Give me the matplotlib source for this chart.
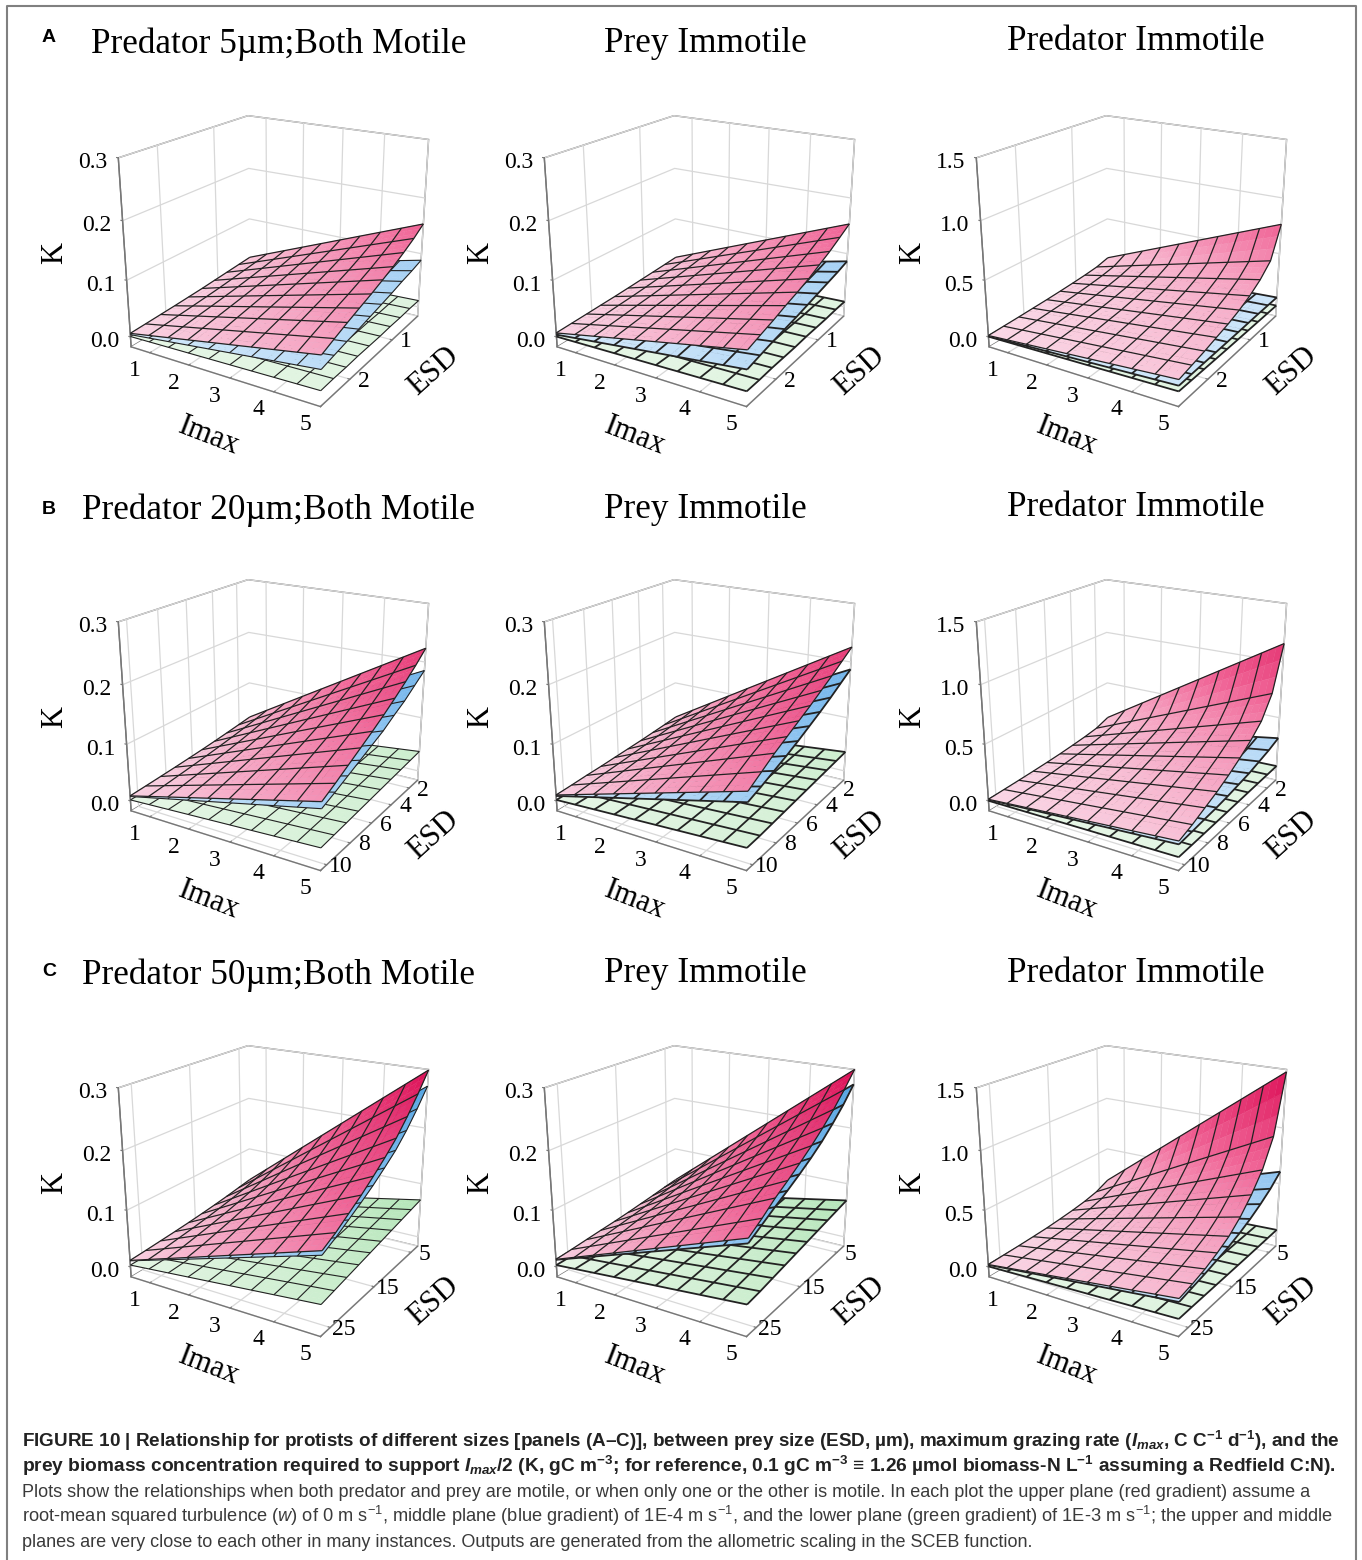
import numpy as np
import matplotlib as mpl
mpl.use('Agg')
import matplotlib.pyplot as plt
from matplotlib.colors import LinearSegmentedColormap
from matplotlib.transforms import offset_copy
from mpl_toolkits.mplot3d import proj3d

W,H = 1362,1560
plt.rcParams['font.family'] = 'Liberation Serif'
plt.rcParams['mathtext.fontset'] = 'custom'
plt.rcParams['mathtext.rm'] = 'Liberation Sans'
plt.rcParams['mathtext.bf'] = 'Liberation Sans:bold'
plt.rcParams['mathtext.it'] = 'Liberation Sans:italic:bold'
plt.rcParams['mathtext.sf'] = 'Liberation Sans:italic'

# Imax at the two ends of the mesh
IMAX_ENDS = [0.5,5]
# ESD nodes per row
ESD_A = [0.3,0.55,0.81,1.07,1.32,1.58,1.84,2.09,2.35,2.6]
ESD_B = [1.0,2.06,3.11,4.17,5.22,6.28,7.33,8.39,9.44,10.5]
ESD_C = [3.0,5.67,8.33,11.0,13.67,16.33,19.0,21.67,24.33,27.0]

# K along ESD: first row Imax=0.5, second row Imax=5
A1_RED = [[.0210,.0190,.0170,.0150,.0130,.0115,.0100,.0088,.0076,.0065],[.154,.140,.128,.117,.108,.099,.091,.083,.074,.065]]
A1_BLUE = [[.0088,.0082,.0077,.0071,.0066,.0061,.0056,.0052,.0047,.0042],[.088,.082,.077,.071,.066,.061,.056,.052,.047,.042]]
A1_GREEN = [[.0012,.0012,.0011,.0011,.0010,.0010,.0010,.0009,.0009,.0008],[.012,.012,.011,.011,.010,.010,.010,.009,.009,.008]]
A2_RED = [[.0210,.0190,.0172,.0155,.0138,.0122,.0110,.0097,.0085,.0073],[.154,.142,.130,.120,.110,.102,.095,.087,.080,.073]]
A2_BLUE = [[.0086,.0080,.0075,.0070,.0065,.0060,.0056,.0052,.0047,.0042],[.086,.080,.075,.070,.065,.060,.056,.052,.047,.042]]
A2_GREEN = [[.0010,.0010,.0009,.0009,.0009,.0008,.0008,.0008,.0007,.0007],[.010,.010,.009,.009,.009,.008,.008,.008,.007,.007]]
A3_RED = [[.100,.070,.056,.046,.038,.031,.026,.021,.017,.013],[.767,.500,.400,.330,.280,.240,.210,.180,.155,.130]]
A3_BLUE = [[.009,.009,.009,.009,.009,.009,.008,.008,.008,.008],[.090,.090,.090,.088,.086,.085,.084,.083,.082,.080]]
A3_GREEN = [[.001,.001,.002,.002,.002,.002,.003,.003,.003,.003],[.012,.014,.016,.018,.020,.022,.025,.028,.031,.034]]

B1_RED = [[.0300,.0268,.0238,.0210,.0185,.0163,.0143,.0125,.0108,.0092],[.224,.205,.188,.172,.157,.143,.130,.117,.104,.092]]
B1_BLUE = [[.0185,.0170,.0155,.0143,.0130,.0120,.0110,.0100,.0090,.0081],[.185,.170,.155,.143,.130,.120,.110,.100,.090,.081]]
B1_GREEN = [[.0037,.0035,.0033,.0031,.0029,.0027,.0025,.0023,.0021,.0019],[.037,.035,.033,.031,.029,.027,.025,.023,.021,.019]]
B2_RED = [[.0300,.0270,.0245,.0220,.0200,.0180,.0160,.0145,.0125,.0108],[.226,.212,.198,.185,.172,.160,.148,.136,.122,.108]]
B2_BLUE = [[.0187,.0174,.0161,.0149,.0138,.0127,.0117,.0108,.0099,.0091],[.187,.174,.161,.149,.138,.127,.117,.108,.099,.091]]
B2_GREEN = [[.0036,.0034,.0032,.0030,.0028,.0026,.0024,.0022,.0020,.0019],[.036,.034,.032,.030,.028,.026,.024,.022,.020,.019]]
B3_RED = [[.145,.100,.080,.065,.052,.042,.034,.027,.021,.015],[1.16,.780,.600,.500,.420,.350,.290,.240,.190,.150]]
B3_BLUE = [[.031,.027,.024,.021,.019,.017,.016,.015,.013,.012],[.310,.270,.240,.210,.190,.170,.155,.145,.133,.123]]
B3_GREEN = [[.005,.004,.004,.004,.003,.003,.003,.003,.002,.002],[.046,.043,.040,.037,.034,.031,.028,.025,.022,.020]]

C1_RED = [[.0370,.0330,.0290,.0255,.0225,.0198,.0175,.0155,.0135,.0118],[.299,.268,.240,.215,.195,.177,.160,.145,.130,.118]]
C1_BLUE = [[.0272,.0243,.0217,.0195,.0178,.0162,.0148,.0135,.0122,.0111],[.272,.243,.217,.195,.178,.162,.148,.135,.122,.111]]
C1_GREEN = [[.0070,.0066,.0062,.0058,.0054,.0050,.0046,.0042,.0038,.0034],[.070,.066,.062,.058,.054,.050,.046,.042,.038,.034]]
C2_RED = [[.0370,.0340,.0305,.0275,.0245,.0220,.0200,.0178,.0155,.0137],[.300,.275,.252,.232,.214,.198,.183,.169,.152,.137]]
C2_BLUE = [[.0275,.0250,.0229,.0210,.0194,.0180,.0167,.0155,.0142,.0129],[.275,.250,.229,.210,.194,.180,.167,.155,.142,.129]]
C2_GREEN = [[.0069,.0065,.0061,.0057,.0053,.0049,.0045,.0041,.0037,.0034],[.069,.065,.061,.057,.053,.049,.045,.041,.037,.034]]
C3_RED = [[.180,.125,.095,.075,.060,.047,.039,.032,.027,.022],[1.48,.980,.750,.600,.480,.390,.330,.280,.245,.218]]
C3_BLUE = [[.061,.052,.045,.039,.034,.030,.027,.024,.022,.019],[.610,.520,.450,.390,.340,.300,.270,.240,.215,.190]]
C3_GREEN = [[.007,.007,.006,.006,.006,.006,.006,.006,.006,.005],[.067,.065,.063,.061,.060,.059,.058,.057,.056,.054]]

IMAX_TICKS = [1,2,3,4,5]
ESD_TICKS = [[1,2],[2,4,6,8,10],[5,15,25]]
KTICKS_SMALL = [0.0,0.1,0.2,0.3]
KTICKS_BIG = [0.0,0.5,1.0,1.5]

ROW_ESD = [ESD_A,ESD_B,ESD_C]
SURFACES = [[[A1_GREEN,A1_BLUE,A1_RED],[A2_GREEN,A2_BLUE,A2_RED],[A3_GREEN,A3_BLUE,A3_RED]],
            [[B1_GREEN,B1_BLUE,B1_RED],[B2_GREEN,B2_BLUE,B2_RED],[B3_GREEN,B3_BLUE,B3_RED]],
            [[C1_GREEN,C1_BLUE,C1_RED],[C2_GREEN,C2_BLUE,C2_RED],[C3_GREEN,C3_BLUE,C3_RED]]]

TITLES_COL = ['Prey Immotile','Predator Immotile']
TITLES_ROW = ['Predator 5\u00b5m;Both Motile','Predator 20\u00b5m;Both Motile','Predator 50\u00b5m;Both Motile']
LETTERS = ['A','B','C']

CAPTION_BOLD = [
 r'FIGURE 10 | Relationship for protists of different sizes [panels (A–C)], between prey size (ESD, µm), maximum grazing rate ($\mathit{I_{max}}$, C C$^{\mathbf{-1}}$ d$^{\mathbf{-1}}$), and the',
 r'prey biomass concentration required to support $\mathit{I_{max}}$/2 (K, gC m$^{\mathbf{-3}}$; for reference, 0.1 gC m$^{\mathbf{-3}}$ ≡ 1.26 µmol biomass-N L$^{\mathbf{-1}}$ assuming a Redfield C:N).',
]
CAPTION_PLAIN = [
 'Plots show the relationships when both predator and prey are motile, or when only one or the other is motile. In each plot the upper plane (red gradient) assume a',
 r'root-mean squared turbulence ($\mathsf{w}$) of 0 m s$^{-1}$, middle plane (blue gradient) of 1E-4 m s$^{-1}$, and the lower plane (green gradient) of 1E-3 m s$^{-1}$; the upper and middle',
 'planes are very close to each other in many instances. Outputs are generated from the allometric scaling in the SCEB function.',
]
CAPTION_RIGHT = [1337,1333,1311,1333,1033]

red = LinearSegmentedColormap.from_list('r',['#fbd9e7','#f06496','#dc0f56'])
blue = LinearSegmentedColormap.from_list('b',['#d6eafb','#7fbcee','#4da0e0'])
green = LinearSegmentedColormap.from_list('g',[(0,'#e6f6e6'),(.25,'#b0e4b5'),(1,'#70c878')])
CMAPS = [green,blue,red]

S = 352          # axes size px
SUB = 3          # faces per mesh cell, only for the colour gradient
COLX = [275,701,1133]
ROWY = [248,712,1178]
ELEV,AZIM,FOCAL = 20.5,-58.5,0.45
WIRE_LW = [0.8,1.3,1.3]
GREY = '#777777'

f = plt.figure(figsize=(W/100,H/100),dpi=100)

def label(ax,x,y,z,s,dx,dy,size=17,rot=0):
    # project the data position, then nudge the text in pixels
    px,py,_ = proj3d.proj_transform(x,y,z,ax.get_proj())
    tr = offset_copy(ax.transData,fig=f,x=dx,y=dy,units='dots')
    ax.text2D(px,py,s,transform=tr,fontsize=size,rotation=rot,ha='center',va='center',
              rotation_mode='anchor',zorder=10)

for r in range(3):
    esd = np.array(ROW_ESD[r])
    for c in range(3):
        ax = f.add_axes([(COLX[c]-S/2)/W,1-(ROWY[r]+S/2)/H,S/W,S/H],projection='3d',computed_zorder=False)
        ax.patch.set_alpha(0)
        ax.set_proj_type('persp',focal_length=FOCAL)
        ax.view_init(elev=ELEV,azim=AZIM)
        ax.set_box_aspect((1,1,0.90))
        top = 1.5 if c==2 else 0.3
        zmin = -0.06*top
        ax.set_xlim(IMAX_ENDS[0],IMAX_ENDS[1],view_margin=0)
        ax.set_ylim(esd[-1],esd[0],view_margin=0)
        ax.set_zlim(zmin,top,view_margin=0)

        for axis in [ax.xaxis,ax.yaxis,ax.zaxis]:
            axis.set_pane_color((1,1,1,1))
            axis.pane.set_edgecolor(GREY)
            axis.line.set_color(GREY)
            axis.line.set_linewidth(1)
            axis._axinfo['grid'].update(color='#d8d8d8',linewidth=0.9)
            axis._axinfo['tick'].update(inward_factor=0,outward_factor=0.12)
        ax.zaxis.pane.set_edgecolor('#d8d8d8')
        ax.zaxis.set_ticks_position('upper')

        kticks = KTICKS_BIG if c==2 else KTICKS_SMALL
        ax.set_xticks(IMAX_TICKS)
        ax.set_yticks(ESD_TICKS[r])
        ax.set_zticks(kticks)
        ax.set_xticklabels([])
        ax.set_yticklabels([])
        ax.set_zticklabels([])
        ax.tick_params(color=GREY)

        for t in IMAX_TICKS:
            label(ax,t,esd[-1],zmin,str(t),-15,-18)
        for t in ESD_TICKS[r]:
            label(ax,IMAX_ENDS[1],t,zmin,str(t),14,-2)
        for t in kticks:
            label(ax,IMAX_ENDS[0],esd[-1],t,'%.1f'%t,-26,-5)
        label(ax,2.75,esd[-1],zmin,'Imax',-11,-61,22,-21)
        label(ax,IMAX_ENDS[1],(esd[0]+esd[-1])/2,zmin,'ESD',59,-14,22,42)
        label(ax,IMAX_ENDS[0],esd[-1],top*0.47,'K',-70,3,22,90)

        for s in range(3):
            rows = np.array(SURFACES[r][c][s])
            n = len(esd)
            # subdivide each typed cell so the faces can carry the gradient
            ei = np.arange((n-1)*SUB+1)/SUB
            yy = np.interp(ei,np.arange(n),esd)
            lo = np.interp(ei,np.arange(n),rows[0])
            hi = np.interp(ei,np.arange(n),rows[1])
            xx = np.linspace(IMAX_ENDS[0],IMAX_ENDS[1],9*SUB+1)
            t = (xx-xx[0])/(xx[-1]-xx[0])
            Z = np.outer(lo,1-t)+np.outer(hi,t)
            X,Y = np.meshgrid(xx,yy)
            fz = (Z[:-1,:-1]+Z[1:,1:])/2
            cols = CMAPS[s](np.clip(fz/top,0,1))
            ax.plot_surface(X,Y,Z,rstride=1,cstride=1,facecolors=cols,shade=False,
                            linewidth=0.3,zorder=2*s+1)
            ax.plot_wireframe(X,Y,Z,rstride=SUB,cstride=SUB,color='#222222',
                              linewidth=WIRE_LW[c] if s<2 else 0.9,zorder=2*s+2)

# titles, letters
TITLE_Y = [[44,43,42],[510,509,508],[975,974,973]]
for r in range(3):
    f.text(279/W,1-TITLE_Y[r][0]/H,TITLES_ROW[r],fontsize=25.4,ha='center',va='center')
    f.text(705/W,1-TITLE_Y[r][1]/H,TITLES_COL[0],fontsize=25.4,ha='center',va='center')
    f.text(1136/W,1-TITLE_Y[r][2]/H,TITLES_COL[1],fontsize=25.4,ha='center',va='center')
for l,y in zip(LETTERS,[38,510,971]):
    f.text(49/W,1-y/H,l,fontsize=14,fontweight='bold',family='Liberation Sans',ha='center',va='center')

# frame, open at the bottom
f.add_artist(plt.Line2D([7/W,7/W,1356/W,1356/W],[0,1-6/H,1-6/H,0],color='#808080',lw=1.5))

# caption lines, each sized to its width in the reference
rend = f.canvas.get_renderer()
lines = CAPTION_BOLD+CAPTION_PLAIN
for i,l in enumerate(lines):
    bold = i<2
    t = f.text(22/W,1-(1447+25.1*i)/H,l,fontsize=13.5,fontweight='bold' if bold else 'normal',
               family='Liberation Sans',color='#222222' if bold else '#3a3a3a',va='baseline')
    w = t.get_window_extent(rend).width
    t.set_fontsize(13.5*(CAPTION_RIGHT[i]-22)/w)

f.savefig('out.png',dpi=100)
